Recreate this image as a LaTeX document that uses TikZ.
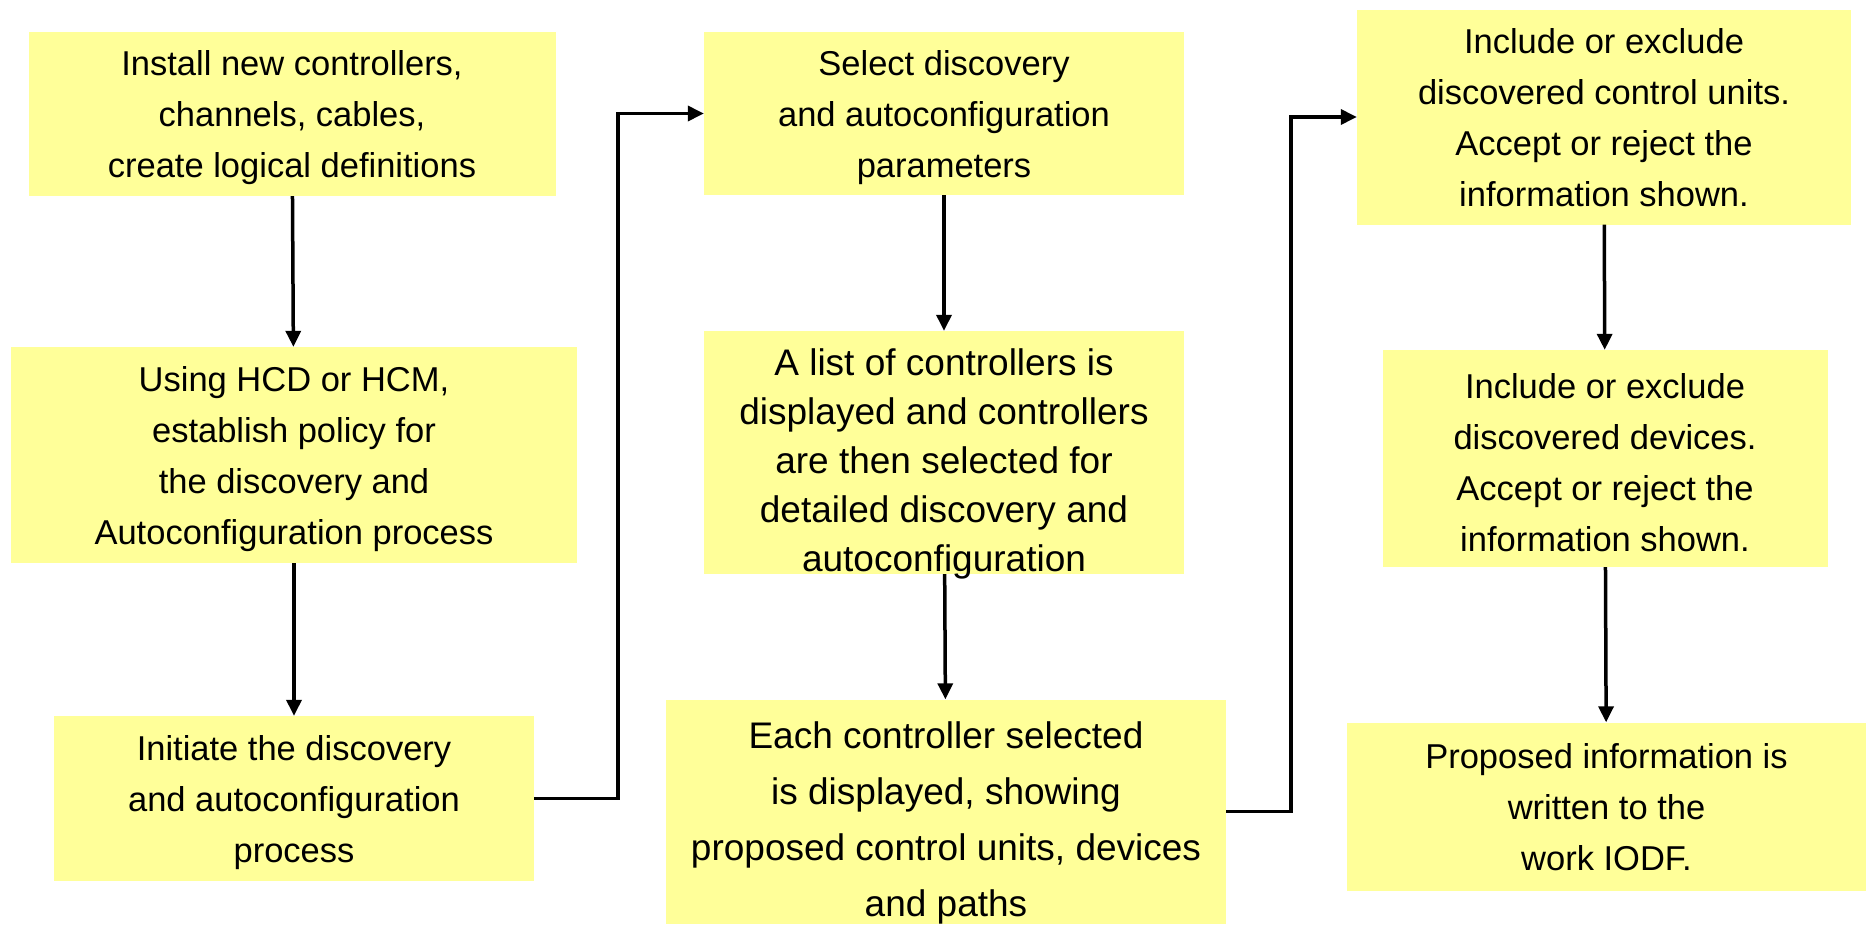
\documentclass[tikz,border=0pt]{standalone}
\usepackage{fontspec}
\setmainfont{Liberation Sans}
\usetikzlibrary{arrows.meta}
\definecolor{padyellow}{HTML}{FFFF99}
\begin{document}
\begin{tikzpicture}[x=1pt, y=-1pt,
    stepbox/.style={fill=padyellow, align=center, inner sep=0pt, text depth=-3pt, font=\fontsize{34.5}{51}\selectfont},
    flow/.style={-{Triangle[length=16pt,width=15pt]}, line width=3.5pt}]
        \useasboundingbox (0,0) rectangle (1866,926);
        \node[stepbox, minimum width=527, minimum height=164] (install) at (292,114) {Install new controllers,\\channels, cables,\\create logical definitions};
        \node[stepbox, minimum width=566, minimum height=216] (policy) at (294,455) {Using HCD or HCM,\\establish policy for\\the discovery and\\Autoconfiguration process};
        \node[stepbox, minimum width=480, minimum height=165] (initiate) at (294,798.5) {Initiate the discovery\\and autoconfiguration\\process};
        \node[stepbox, minimum width=480, minimum height=163] (select) at (944,113.5) {Select discovery\\and autoconfiguration\\parameters};
        \node[stepbox, minimum width=480, minimum height=243, text depth=-11pt, font=\fontsize{37}{49}\selectfont] (list) at (944,452.5) {\rule{0pt}{42pt}A list of controllers is\\displayed and controllers\\are then selected for\\detailed discovery and\\autoconfiguration};
        \node[stepbox, minimum width=560, minimum height=224, text depth=-11pt, font=\fontsize{37}{56}\selectfont] (each) at (946,811.5) {\rule{0pt}{42pt}Each controller selected\\is displayed, showing\\proposed control units, devices\\and paths};
        \node[stepbox, minimum width=494, minimum height=215, text depth=0pt] (cunits) at (1604,117) {Include or exclude\\discovered control units.\\Accept or reject the\\information shown.};
        \node[stepbox, minimum width=445, minimum height=217, text depth=-8pt] (devices) at (1605,458.5) {\rule{0pt}{32pt}Include or exclude\\discovered devices.\\Accept or reject the\\information shown.};
        \node[stepbox, minimum width=519, minimum height=168, text depth=-4pt] (iodf) at (1606.5,806.5) {Proposed information is\\written to the\\work IODF.};
        \draw[flow] (install) -- (policy);
        \draw[flow] (policy) -- (initiate);
        \draw[flow] (initiate.east) -- ++(84,0) |- (select.west);
        \draw[flow] (select) -- (list);
        \draw[flow] (list) -- (each);
        \draw[flow] (each.east) -- ++(65,0) |- (cunits.west);
        \draw[flow] (cunits) -- (devices);
        \draw[flow] (devices) -- (iodf);
    \end{tikzpicture}
\end{document}
